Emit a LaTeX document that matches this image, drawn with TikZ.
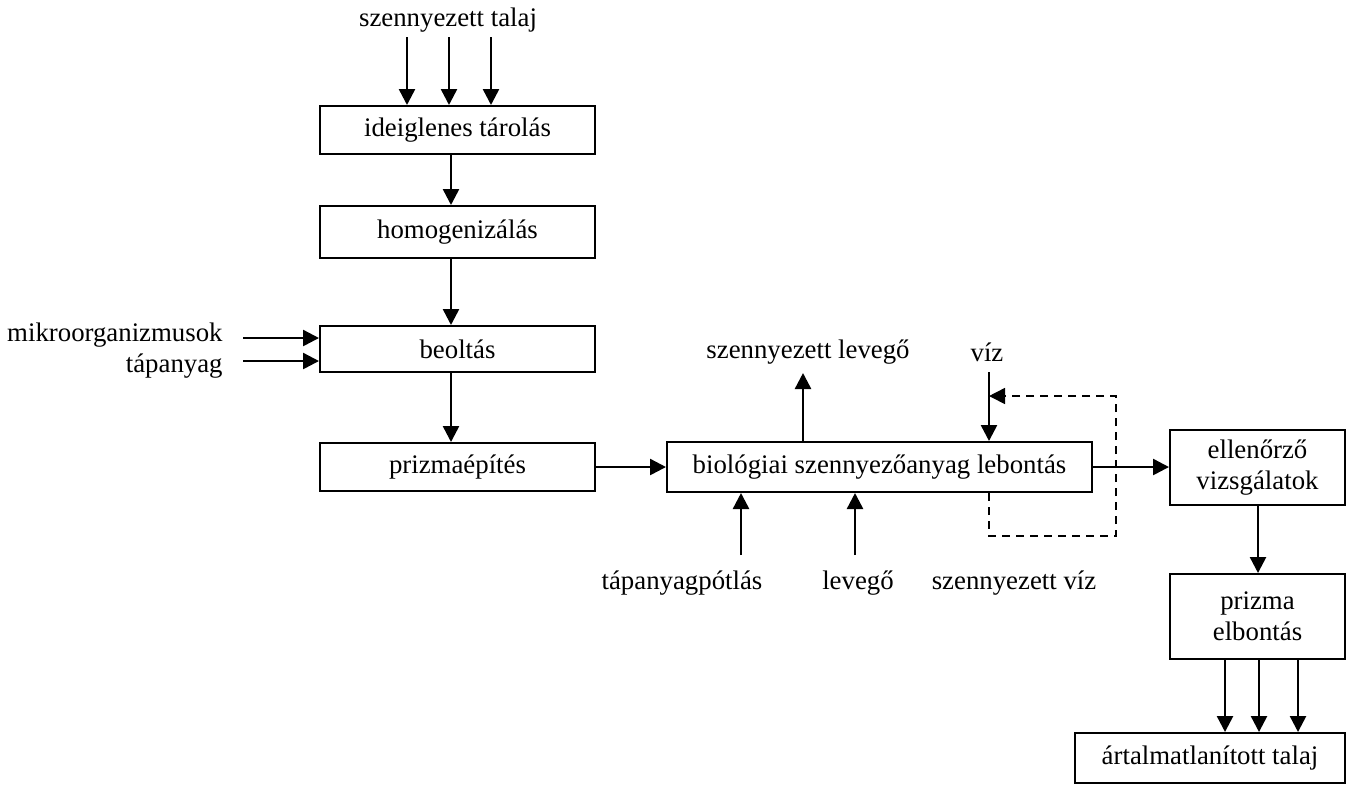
\documentclass[tikz,border=0pt]{standalone}
\usepackage{fontspec}
\setmainfont{Liberation Serif}
\usetikzlibrary{arrows.meta}
\begin{document}
\begin{tikzpicture}[x=0.5pt,y=-0.5pt,
  txt/.style={font=\fontsize{13.4}{15.5}\selectfont},
  box/.style={txt, draw, line width=1pt, rectangle, inner sep=0pt, align=center},
  lbl/.style={txt, inner sep=0pt},
  flow/.style={line width=1.25pt, -{Triangle[length=8pt,width=8pt]}},
  back/.style={line width=0.8pt, dash pattern=on 4pt off 3pt, -{Triangle[length=8pt,width=8pt]}}]
\useasboundingbox (0,0) rectangle (1352,784);

% process boxes
\node[box, minimum width=137.5pt, minimum height=24pt] (tar) at (457.5,130) {ideiglenes tárolás};
\node[box, minimum width=137.5pt, minimum height=26pt] (hom) at (457.5,232) {homogenizálás};
\node[box, minimum width=137.5pt, minimum height=23pt] (beo) at (457.5,349) {beoltás};
\node[box, minimum width=137.5pt, minimum height=24pt] (pri) at (457.5,467) {prizmaépítés};
\node[box, minimum width=212.5pt, minimum height=25pt] (bio) at (879.5,467) {biológiai szennyezőanyag lebontás};
\node[box, minimum width=87.5pt, minimum height=37.5pt] (ell) at (1257.5,467.5) {ellenőrző\\vizsgálatok};
\node[box, minimum width=87.5pt, minimum height=42.5pt] (elb) at (1257.5,616.5) {prizma\\elbontás};
\node[box, minimum width=135pt, minimum height=25pt] (art) at (1210,758) {ártalmatlanított talaj};

% input / output labels
\node[lbl] (talaj) at (448,20) {szennyezett talaj};
\node[lbl, anchor=base east] (mikro) at (223,341) {mikroorganizmusok};
\node[lbl, anchor=base east] (tap) at (223,372) {tápanyag};
\node[lbl] (lev1) at (808,352) {szennyezett levegő};
\node[lbl] (viz) at (987,352) {víz};
\node[lbl] (tpot) at (682,583) {tápanyagpótlás};
\node[lbl] (lev2) at (858,583) {levegő};
\node[lbl] (szv) at (1014,583) {szennyezett víz};

% free arrow ends
\coordinate (t1) at (407,37);
\coordinate (t2) at (449,37);
\coordinate (t3) at (491,37);
\coordinate (m1) at (243,338);
\coordinate (m2) at (243,361);
\coordinate (levtip) at (803,373);
\coordinate (vizs) at (989,372);
\coordinate (vjoin) at (989,396);
\coordinate (tp) at (741,555);
\coordinate (lv) at (855,555);
\coordinate (d1) at (989,536);
\coordinate (d2) at (1116,536);
\coordinate (d3) at (1116,396);

% soil input
\draw[flow] (t1) -- (t1 |- tar.north);
\draw[flow] (t2) -- (t2 |- tar.north);
\draw[flow] (t3) -- (t3 |- tar.north);

% main line
\draw[flow] (tar.south -| 451,0) -- (hom.north -| 451,0);
\draw[flow] (hom.south -| 451,0) -- (beo.north -| 451,0);
\draw[flow] (beo.south -| 451,0) -- (pri.north -| 451,0);
\draw[flow] (m1) -- (m1 -| beo.west);
\draw[flow] (m2) -- (m2 -| beo.west);
\draw[flow] (pri.east) -- (bio.west);

% biodegradation inputs and outputs
\draw[flow] (bio.north -| levtip) -- (levtip);
\draw[flow] (vizs) -- (vizs |- bio.north);
\draw[flow] (tp) -- (tp |- bio.south);
\draw[flow] (lv) -- (lv |- bio.south);
\draw[back] (d1 |- bio.south) -- (d1) -- (d2) -- (d3) -- (vjoin);

% checks and dismantling
\draw[flow] (bio.east) -- (bio.east -| ell.west);
\draw[flow] (ell.south -| 1258,0) -- (elb.north -| 1258,0);
\draw[flow] (elb.south -| 1225,0) -- (art.north -| 1225,0);
\draw[flow] (elb.south -| 1259,0) -- (art.north -| 1259,0);
\draw[flow] (elb.south -| 1298,0) -- (art.north -| 1298,0);
\end{tikzpicture}
\end{document}
